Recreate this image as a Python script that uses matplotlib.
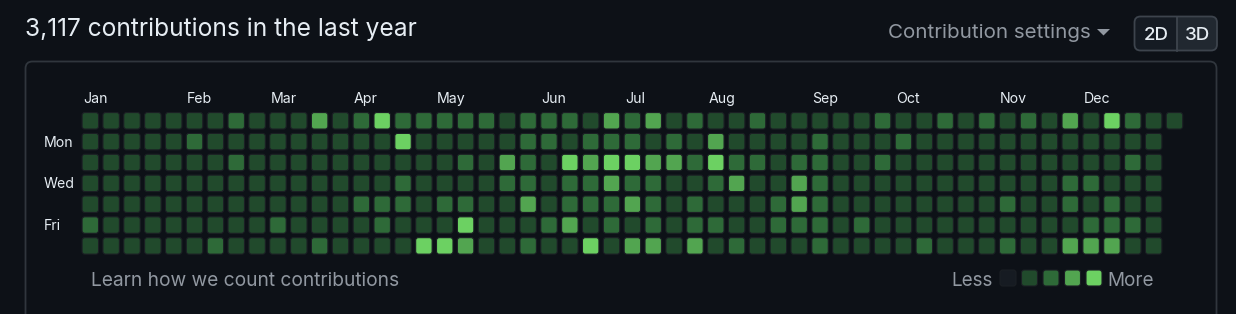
import matplotlib.pyplot as plt
from matplotlib.patches import FancyBboxPatch, Polygon, Rectangle

# contribution level (0-4) per week, one list per weekday
sun = [1,1,1,1,1,1,1,2,1,1,1,3,1, 2,4,2,2,2,2,2,1,2,2,2,1,3, 2,3,1,2,1,1,2,1,1,1,1,1,2, 1,1,2,1,2,1,2,1,3,1,4,2,1,1]
mon = [1,1,1,1,1,2,1,1,1,1,1,1,1, 1,1,4,1,1,1,1,1,2,2,1,2,2, 2,1,2,1,3,1,1,1,1,2,1,1,1, 2,1,1,1,1,1,1,1,1,1,1,1,1]
tue = [1,1,1,1,1,1,1,2,1,1,1,1,1, 1,1,1,1,1,2,1,3,2,1,4,3,4, 4,3,3,2,4,2,2,1,2,2,1,1,2, 1,1,1,1,1,1,1,1,1,1,1,2,1]
wed = [1,1,1,1,1,1,1,1,1,1,1,1,1, 1,1,2,1,1,1,1,2,2,1,2,2,3, 2,2,1,1,2,3,1,1,3,2,1,1,1, 1,1,1,1,1,1,1,1,2,2,1,1,1]
thu = [1,1,1,1,1,1,1,1,1,1,1,1,1, 2,2,2,1,2,2,1,1,3,1,2,2,2, 3,2,1,2,1,1,1,2,3,2,1,1,1, 1,1,1,1,1,2,1,1,2,1,2,1,1]
fri = [2,1,1,1,1,1,1,1,1,2,1,1,1, 1,2,1,1,1,4,1,1,1,2,3,1,2, 1,2,1,2,2,1,1,2,2,2,1,2,1, 1,1,1,1,1,1,1,1,1,2,2,2,1]
sat = [1,1,1,1,1,1,2,1,1,1,1,2,1, 1,1,1,4,4,3,1,1,2,1,1,4,1, 3,3,1,3,1,2,1,1,1,2,1,1,1, 1,2,1,1,1,2,1,1,3,3,3,1,1]
weeks = [sun, mon, tue, wed, thu, fri, sat]

months = ["Jan", "Feb", "Mar", "Apr", "May", "Jun", "Jul", "Aug", "Sep", "Oct", "Nov", "Dec"]
month_week = [0, 5, 9, 13, 17, 22, 26, 30, 35, 39, 44, 48]
day_labels = {1: "Mon", 3: "Wed", 5: "Fri"}
total = 3117

level_colors = ["#161b22", "#214a2c", "#2e6a38", "#52a550", "#6cd162"]
bg = "#0d1117"
fg = "#e6edf3"
muted = "#9198a1"

plt.rcParams["font.family"] = ["Inter", "DejaVu Sans"]

W, H = 1236, 314
fig = plt.figure(figsize=(W / 100, H / 100), dpi=100)
fig.patch.set_facecolor(bg)

# background axes in pixel units
base = fig.add_axes([0, 0, 1, 1])
base.set_xlim(0, W)
base.set_ylim(H, 0)
base.axis("off")

base.add_patch(FancyBboxPatch((25.5, 61.5), 1191, 320, boxstyle="round,pad=0,rounding_size=7",
                              fc=bg, ec="#30363d", lw=1.3))

base.text(25, 36, f"{total:,} contributions in the last year", color=fg, fontsize=17.7, va="baseline")
base.text(888, 38, "Contribution settings", color=muted, fontsize=14.8, va="baseline")
base.add_patch(Polygon([(1097, 29), (1110, 29), (1103.5, 35.5)], closed=True, fc=muted, ec="none"))

# 2D / 3D toggle
base.add_patch(FancyBboxPatch((1134.5, 16.5), 82.5, 34, boxstyle="round,pad=0,rounding_size=6",
                              fc="#212830", ec="none"))
base.add_patch(FancyBboxPatch((1134.5, 16.5), 42.5, 34, boxstyle="round,pad=0,rounding_size=6",
                              fc="#151b23", ec="none"))
base.add_patch(Rectangle((1168, 16.5), 9, 34, fc="#151b23", ec="none"))
base.add_patch(FancyBboxPatch((1134.5, 16.5), 82.5, 34, boxstyle="round,pad=0,rounding_size=6",
                              fc="none", ec="#3d444d", lw=1.3))
base.plot([1177, 1177], [16.5, 50.5], color="#3d444d", lw=1.3)
base.text(1156.5, 40, "2D", color=fg, fontsize=13.5, ha="center", va="baseline", fontweight="medium")
base.text(1197, 40, "3D", color=fg, fontsize=13.5, ha="center", va="baseline", fontweight="medium")

base.text(91, 286, "Learn how we count contributions", color=muted, fontsize=13.8, va="baseline")
base.text(993, 286.5, "Less", color=muted, fontsize=13.6, ha="right", va="baseline")
base.text(1107, 286.5, "More", color=muted, fontsize=13.6, ha="left", va="baseline")

# contribution grid: one data unit per week / weekday
pitch = 20.85
x0, y0 = 90.3 - pitch / 2, 120.8 - pitch / 2
ncols = len(sun)
grid = fig.add_axes([x0 / W, 1 - (y0 + 7 * pitch) / H, ncols * pitch / W, 7 * pitch / H])
grid.set_xlim(-0.5, ncols - 0.5)
grid.set_ylim(6.5, -0.5)
grid.axis("off")

size = 0.79
for row, vals in enumerate(weeks):
    for col, lv in enumerate(vals):
        grid.add_patch(FancyBboxPatch((col - size / 2, row - size / 2), size, size,
                                      boxstyle="round,pad=0,rounding_size=0.13",
                                      fc=level_colors[lv], ec="#1b1f24", lw=0.8))

for name, wk in zip(months, month_week):
    grid.text(wk - 0.36, -0.84, name, color=fg, fontsize=10.2, ha="left", va="baseline", clip_on=False)
for row, name in day_labels.items():
    grid.text(-2.22, row + 0.05, name, color=fg, fontsize=10.2, ha="left", va="center", clip_on=False)

# legend swatches
lp = 21.5
leg = fig.add_axes([(1008 - lp / 2) / W, 1 - (278 + lp / 2) / H, 5 * lp / W, lp / H])
leg.set_xlim(-0.5, 4.5)
leg.set_ylim(0.5, -0.5)
leg.axis("off")
ls = 16 / lp
for i, c in enumerate(level_colors):
    leg.add_patch(FancyBboxPatch((i - ls / 2, -ls / 2), ls, ls, boxstyle="round,pad=0,rounding_size=0.13",
                                 fc=c, ec="#1b1f24", lw=0.8))

fig.savefig("out.png", dpi=100, facecolor=bg)
